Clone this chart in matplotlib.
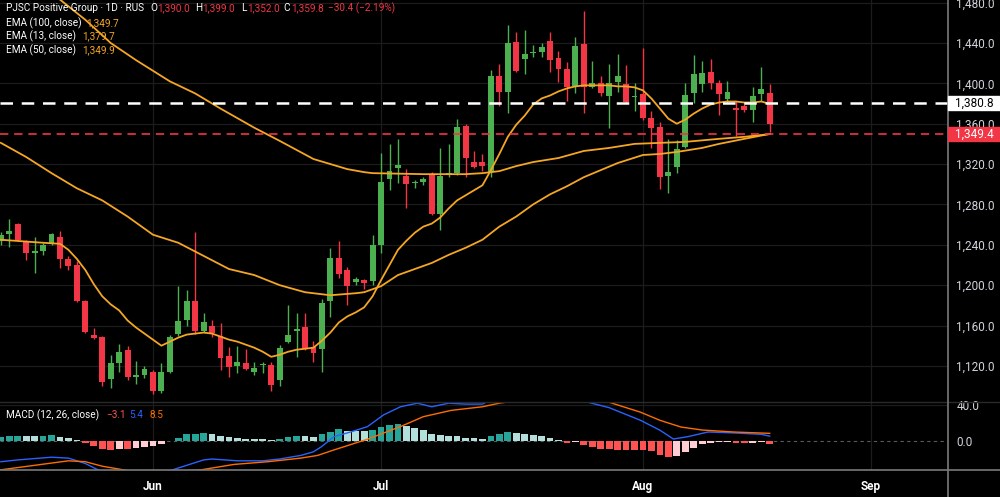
import matplotlib
matplotlib.use("Agg")
import matplotlib.pyplot as plt
from matplotlib.patches import Rectangle
from matplotlib.lines import Line2D

W, H = 1000, 497

# daily bars, index 0..91
opens = [1244, 1251, 1261, 1244, 1232, 1234, 1241, 1248, 1226, 1220,
         1184, 1151, 1149, 1107, 1123, 1136, 1109, 1111, 1114, 1095,
         1114, 1152, 1165, 1184, 1155, 1160, 1150, 1130, 1120, 1123,
         1114, 1121, 1121, 1106, 1144, 1155, 1159, 1139, 1137, 1184,
         1227, 1215, 1203, 1205, 1204, 1240, 1305, 1316, 1308, 1301,
         1302, 1310, 1271, 1309, 1311, 1358, 1322, 1322, 1312, 1407,
         1391, 1441, 1424, 1430, 1431, 1442, 1425, 1414, 1397, 1439,
         1396, 1400, 1387, 1401, 1399, 1386, 1389, 1366, 1357, 1308,
         1317, 1337, 1390, 1399, 1411, 1400, 1384, 1376, 1378, 1374,
         1389, 1390]
highs = [1253, 1266, 1262, 1245, 1248, 1242, 1252, 1254, 1229, 1224,
         1185, 1158, 1150, 1131, 1142, 1140, 1125, 1120, 1116, 1123,
         1151, 1199, 1195, 1253, 1172, 1165, 1162, 1139, 1140, 1137,
         1124, 1124, 1124, 1141, 1180, 1172, 1172, 1145, 1186, 1237,
         1244, 1218, 1208, 1206, 1250, 1331, 1340, 1345, 1315, 1304,
         1307, 1312, 1336, 1340, 1365, 1360, 1333, 1330, 1413, 1419,
         1458, 1451, 1453, 1438, 1440, 1451, 1432, 1421, 1446, 1472,
         1422, 1407, 1419, 1429, 1418, 1400, 1435, 1373, 1362, 1345,
         1344, 1400, 1428, 1422, 1424, 1403, 1402, 1383, 1380, 1396,
         1416, 1399]
lows = [1240, 1238, 1244, 1225, 1212, 1230, 1240, 1217, 1215, 1183,
        1153, 1147, 1100, 1098, 1114, 1106, 1102, 1108, 1092, 1093,
        1113, 1150, 1160, 1152, 1154, 1149, 1116, 1109, 1113, 1116,
        1111, 1113, 1095, 1100, 1143, 1129, 1136, 1124, 1114, 1168,
        1207, 1180, 1200, 1196, 1200, 1232, 1294, 1301, 1276, 1296,
        1299, 1270, 1255, 1307, 1309, 1307, 1316, 1313, 1307, 1378,
        1371, 1411, 1409, 1426, 1426, 1411, 1401, 1383, 1390, 1371,
        1395, 1387, 1356, 1391, 1381, 1373, 1364, 1336, 1295, 1291,
        1311, 1336, 1381, 1391, 1394, 1369, 1382, 1348, 1372, 1362,
        1383, 1352]
closes = [1250, 1254, 1245, 1232, 1234, 1240, 1251, 1226, 1219, 1184,
          1154, 1148, 1104, 1123, 1134, 1109, 1111, 1117, 1095, 1114,
          1149, 1164, 1184, 1155, 1163, 1153, 1128, 1119, 1124, 1117,
          1118, 1122, 1101, 1138, 1151, 1157, 1137, 1133, 1182, 1227,
          1211, 1199, 1206, 1202, 1240, 1302, 1313, 1319, 1300, 1302,
          1305, 1271, 1308, 1311, 1357, 1326, 1317, 1318, 1407, 1391,
          1440, 1412, 1429, 1431, 1436, 1423, 1414, 1396, 1437, 1396,
          1400, 1390, 1400, 1407, 1382, 1387, 1366, 1356, 1307, 1312,
          1335, 1388, 1409, 1410, 1400, 1389, 1391, 1374, 1374, 1387,
          1394, 1359.8]

# EMA readings (bar index, value)
ema13_x = [0, 5, 7, 8, 9, 10, 11, 12, 13, 14, 15, 16, 17, 18, 19, 20, 21, 22,
           23, 24, 25, 26, 27, 28, 29, 30, 31, 32, 33, 34, 35, 36, 37, 38, 39,
           40, 41, 42, 43, 44, 45, 46, 47, 48, 49, 50, 51, 52, 53, 54, 55, 56,
           57, 58, 59, 60, 61, 62, 63, 64, 65, 66, 67, 68, 69, 72, 73, 74, 75,
           76, 77, 78, 79, 80, 81, 82, 83, 84, 85, 86, 87, 88, 89, 90, 91]
ema13_y = [1245, 1242, 1241, 1235, 1226, 1215, 1201, 1189, 1181, 1175, 1165,
           1158, 1152, 1146, 1140, 1144, 1148, 1151, 1152, 1153, 1152, 1149,
           1146, 1144, 1141, 1138, 1134, 1129, 1131, 1134, 1136, 1137, 1138,
           1145, 1153, 1163, 1169, 1173, 1178, 1189, 1205, 1220, 1235, 1244,
           1252, 1258, 1261, 1267, 1276, 1284, 1289, 1294, 1299, 1314, 1330,
           1347, 1359, 1368, 1379, 1385, 1388, 1392, 1395, 1397, 1398, 1398,
           1397, 1397, 1396, 1393, 1385, 1375, 1365, 1360, 1364, 1370, 1375,
           1379, 1381, 1382, 1382, 1381, 1381, 1382, 1379.7]
ema50_x = [0, 3, 6, 9, 12, 15, 18, 21, 24, 27, 30, 33, 36, 39, 42, 43, 45,
           47, 49, 51, 53, 55, 57, 59, 61, 63, 65, 67, 69, 71, 73, 76, 78, 80,
           83, 85, 88, 91]
ema50_y = [1341, 1327, 1311, 1296, 1284, 1268, 1250, 1242, 1229, 1216, 1210,
           1200, 1193, 1190, 1192, 1193, 1199, 1210, 1216, 1222, 1230, 1237,
           1245, 1258, 1268, 1280, 1290, 1298, 1307, 1314, 1321, 1329, 1330,
           1332, 1336, 1340, 1345, 1349.9]
ema100_x = [0, 4, 7, 10, 13, 16, 20, 23, 26, 30, 33, 35, 37, 39, 41, 43, 44,
            50, 55, 57, 59, 61, 63, 66, 69, 72, 75, 78, 81, 85, 88, 91]
ema100_y = [1535, 1505, 1483, 1463, 1440, 1423, 1402, 1390, 1375, 1356, 1343,
            1334, 1325, 1320, 1315, 1312, 1311, 1310, 1310, 1311, 1313, 1318,
            1322, 1326, 1333, 1336, 1340, 1341, 1342, 1345, 1347, 1349.7]

# MACD (12, 26, close)
hist = [4.8, 5.9, 6.0, 5.6, 5.2, 5.9, 6.7, 4.4, 3.0, 0.7,
        -2.6, -5.6, -9.3, -10.0, -8.9, -9.3, -8.1, -6.3, -5.2, -3.7,
        0.4, 3.0, 7.4, 8.1, 8.5, 8.3, 5.9, 4.1, 3.7, 2.2,
        1.9, 1.8, 1.1, 1.9, 4.1, 5.6, 5.2, 4.8, 8.1, 10.4,
        13.0, 11.1, 11.0, 10.7, 11.9, 15.2, 17.4, 18.5, 16.7, 14.1,
        12.2, 7.4, 7.0, 5.9, 5.6, 3.7, 3.3, 1.9, 5.9, 7.5,
        9.6, 8.5, 7.8, 6.7, 5.6, 3.3, 0.7, -1.9, -1.5, -4.4,
        -6.3, -8.9, -9.0, -10.0, -10.1, -10.2, -10.3, -11.1, -15.5, -17.4,
        -16.3, -11.9, -8.1, -3.7, -1.9, -1.5, -1.4, -1.9, -2.6, -1.9,
        -1.5, -3.1]
macd_x = [0, 2, 6, 8, 10, 11.5, 12, 14, 16, 18, 20, 21, 22, 24, 25, 28, 31,
          33, 35.5, 37, 38, 39.4, 41.4, 43.4, 45.3, 47.3, 49.3, 51, 53, 55,
          57, 58, 60, 62, 64, 66, 68, 69.5, 72, 75.7, 78, 79.6, 81.3, 83.7,
          86.7, 90, 91]
macd_y = [-23, -21, -18, -19, -25, -32, -36, -42, -42, -38, -33, -30, -27,
          -21, -20, -22, -22, -20, -16, -12, -6, 4.8, 10, 16, 29, 38, 42, 38,
          42, 41, 41, 46, 50, 53, 53, 52, 48, 43, 37, 23, 12, 2.2, 4.8, 10,
          9, 7.4, 5.4]
signal_x = [0, 4, 8, 10, 12, 14.5, 16, 19, 22, 23.7, 27.6, 31.6, 35.5, 37.5,
            39.4, 43.4, 47.3, 50, 53.3, 57, 59, 62, 66, 69, 72, 75.7, 78,
            80.5, 83, 86.7, 91]
signal_y = [-32, -27, -22, -23, -28, -32, -35, -35, -33, -32, -26, -23, -19,
            -16, -10, 2, 16, 27, 34, 38, 42, 46, 48, 46, 43, 32, 23, 15.5,
            12.2, 10, 8.5]

month_pos = [18, 45, 76, 103]
month_labels = ["Jun", "Jul", "Aug", "Sep"]
price_ticks = [1120, 1160, 1200, 1240, 1280, 1320, 1360, 1400, 1440, 1480]
last_line = 1380.8
red_line = 1349.4

UP, DOWN = "#4caf50", "#f23645"
EMA_C = "#f5a623"
GRID = "#1c1c1c"
TXT = "#d1d4dc"
FONT = "Roboto"


def fx(px):
    return px / W


def fy(py):
    return 1 - py / H


fig = plt.figure(figsize=(W / 100, H / 100), dpi=100, facecolor="black")
ax = fig.add_axes([0, fy(402), fx(948), 402 / H], facecolor="black")
mx = fig.add_axes([0, fy(470), fx(948), 68 / H], facecolor="black")

for a in (ax, mx):
    for s in a.spines.values():
        s.set_visible(False)
    a.set_xlim(-0.1, 112.1)
    for m in month_pos:
        a.axvline(m, color=GRID, lw=0.9, zorder=0)

# price panel
ax.set_ylim(1084.2, 1482.6)
for t in price_ticks:
    ax.axhline(t, color=GRID, lw=0.9, zorder=0)

for i, (o, h, l, c) in enumerate(zip(opens, highs, lows, closes)):
    col = UP if c >= o else DOWN
    ax.vlines(i, l, h, color=col, lw=1.0, zorder=2)
    ax.bar(i, max(abs(c - o), 1.2), bottom=min(o, c), width=0.7,
           color=col, lw=0, zorder=3)

for xs, ys in ((ema100_x, ema100_y), (ema50_x, ema50_y), (ema13_x, ema13_y)):
    ax.plot(xs, ys, color=EMA_C, lw=1.3, zorder=4)

ax.axhline(last_line, color="white", lw=1.8, dashes=(5, 3.5), zorder=5)
ax.axhline(red_line, color=DOWN, lw=1.2, dashes=(5, 3.5), zorder=5)

ax.yaxis.tick_right()
ax.set_yticks(price_ticks)
ax.set_yticklabels([f"{t:,.1f}" for t in price_ticks])
ax.tick_params(axis="y", length=0, pad=6, labelcolor=TXT, labelsize=8.5)
ax.tick_params(axis="x", length=0, labelbottom=False)
for lab in ax.get_yticklabels():
    lab.set_fontfamily(FONT)

# MACD panel
mx.set_ylim(-32.2, 43.3)
mx.axhline(40, color=GRID, lw=0.9, zorder=0)
mx.axhline(0, color="#5a5a5a", lw=0.8, dashes=(3, 3), zorder=1)
hcols = []
for i, v in enumerate(hist):
    prev = hist[i - 1] if i else v
    if v >= 0:
        hcols.append("#26a69a" if v >= prev else "#b2dfdb")
    else:
        hcols.append("#ff5252" if v <= prev else "#ffcdd2")
mx.bar(range(len(hist)), hist, width=0.8, color=hcols, lw=0, zorder=2)
mx.plot(macd_x, macd_y, color="#2962ff", lw=1.0, zorder=3)
mx.plot(signal_x, signal_y, color="#ff6d00", lw=1.0, zorder=3)

mx.yaxis.tick_right()
mx.set_yticks([0, 40])
mx.set_yticklabels(["0.0", "40.0"])
mx.set_xticks(month_pos)
mx.set_xticklabels(month_labels)
mx.tick_params(axis="y", length=0, pad=6, labelcolor=TXT, labelsize=8.5)
mx.tick_params(axis="x", length=0, pad=7, labelcolor="white", labelsize=8.5)
for lab in mx.get_yticklabels():
    lab.set_fontfamily(FONT)
for lab in mx.get_xticklabels():
    lab.set_fontfamily(FONT)
    lab.set_fontweight("bold")

# separators
fig.add_artist(Line2D([0, 1], [fy(402), fy(402)], color="#2a2a2a", lw=1.0))
fig.add_artist(Line2D([0, 1], [fy(470), fy(470)], color="#7a7a7a", lw=1.2))
fig.add_artist(Line2D([fx(948), fx(948)], [0, 1], color="#7a7a7a", lw=1.2))

# price labels on the scale
fig.add_artist(Rectangle((fx(948), fy(110)), fx(52), 14 / H, color="white",
                         transform=fig.transFigure, zorder=6))
fig.text(fx(955), fy(103), f"{last_line:,.1f}", color="black", fontsize=8.5,
         family=FONT, va="center", zorder=7)
fig.add_artist(Rectangle((fx(948), fy(141)), fx(52), 14 / H, color=DOWN,
                         transform=fig.transFigure, zorder=6))
fig.text(fx(955), fy(134), f"{red_line:,.1f}", color="white", fontsize=8.5,
         family=FONT, va="center", zorder=7)

# legend texts
def put(px, py, s, col, size=7.2):
    fig.text(fx(px), fy(py), s, color=col, fontsize=size, family=FONT,
             va="center", zorder=8)

put(6, 8, "PJSC Positive Group \u00b7 1D \u00b7 RUS", "white")
put(150, 8, "O", "white")
put(157, 8, "1,390.0", DOWN)
put(195, 8, "H", "white")
put(202, 8, "1,399.0", DOWN)
put(241, 8, "L", "white")
put(247, 8, "1,352.0", DOWN)
put(283, 8, "C", "white")
put(291, 8, "1,359.8", DOWN)
put(328, 8, "\u221230.4 (\u22122.19%)", DOWN)
put(6, 23, "EMA (100, close)", "white")
put(86, 23, "1,349.7", EMA_C)
put(6, 36, "EMA (13, close)", "white")
put(82, 36, "1,379.7", EMA_C)
put(6, 50, "EMA (50, close)", "white")
put(82, 50, "1,349.9", EMA_C)
put(6, 415, "MACD (12, 26, close)", "white")
put(106, 415, "\u22123.1", "#ff5252")
put(129, 415, "5.4", "#2962ff")
put(149, 415, "8.5", "#ff6d00")

fig.savefig("out.png", dpi=100, facecolor="black")
